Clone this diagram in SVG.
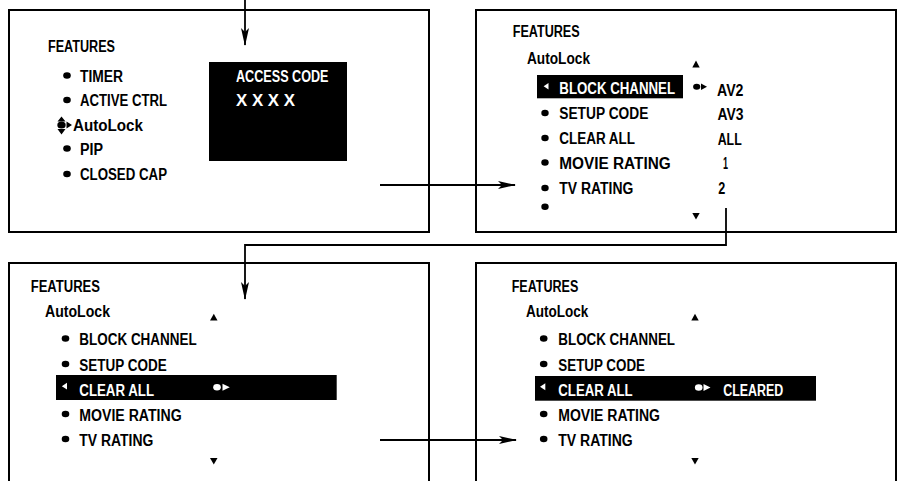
<svg xmlns="http://www.w3.org/2000/svg" width="901" height="481" viewBox="0 0 901 481">
<style>
  .box{fill:none;stroke:#000;stroke-width:2}
  .t{font-family:"Liberation Sans",Arial,sans-serif;font-size:16px;font-weight:bold;fill:#000}
  .w{fill:#fff}
  .hl{fill:#000}
  .b{fill:#000}
  .bw{fill:#fff}
  .conn{fill:none;stroke:#000;stroke-width:1.8}
</style>
<defs>
  <marker id="ah" viewBox="0 0 18 9" refX="17" refY="4.5" markerWidth="18" markerHeight="9" markerUnits="userSpaceOnUse" orient="auto">
    <path d="M0,0.5 L18,4.5 L0,8.5 L4,4.5 Z" fill="#000"/>
  </marker>
</defs>
<rect width="901" height="481" fill="#fff"/>

<g id="screen1">
  <rect class="box" x="9" y="10" width="420" height="222"/>
  <text class="t" x="48" y="51.5" textLength="67" lengthAdjust="spacingAndGlyphs">FEATURES</text>
  <ellipse class="b" cx="67" cy="75.5" rx="3.8" ry="3.2"/>
  <text class="t" x="80" y="81.5" textLength="43" lengthAdjust="spacingAndGlyphs">TIMER</text>
  <ellipse class="b" cx="67" cy="100" rx="3.8" ry="3.2"/>
  <text class="t" x="80" y="106" textLength="87" lengthAdjust="spacingAndGlyphs">ACTIVE CTRL</text>
  <path class="b" d="M57.5,121.5 L65.5,121.5 L61.5,116.5 Z M57.5,129 L65.5,129 L61.5,134.5 Z M66.5,121.5 L66.5,128.5 L72,125 Z"/>
  <ellipse class="b" cx="61.5" cy="125" rx="4.2" ry="3.5"/>
  <text class="t" x="73" y="131" textLength="70" lengthAdjust="spacingAndGlyphs">AutoLock</text>
  <ellipse class="b" cx="67" cy="148.5" rx="3.8" ry="3.2"/>
  <text class="t" x="80" y="154.5" textLength="23" lengthAdjust="spacingAndGlyphs">PIP</text>
  <ellipse class="b" cx="67" cy="174" rx="3.8" ry="3.2"/>
  <text class="t" x="80" y="180" textLength="87" lengthAdjust="spacingAndGlyphs">CLOSED CAP</text>
  <rect class="hl" x="209" y="62" width="138" height="99"/>
  <text class="t w" x="236" y="81.5" textLength="92.5" lengthAdjust="spacingAndGlyphs">ACCESS CODE</text>
  <text class="t w" x="236" y="106" textLength="59" lengthAdjust="spacingAndGlyphs">X X X X</text>
</g>

<g id="screen2">
  <rect class="box" x="476" y="10" width="420" height="222"/>
  <text class="t" x="512.7" y="37" textLength="67" lengthAdjust="spacingAndGlyphs">FEATURES</text>
  <text class="t" x="527" y="63.5" textLength="63" lengthAdjust="spacingAndGlyphs">AutoLock</text>
  <path class="b" d="M692.3,67.5 L699.7,67.5 L696,60.5 Z"/>
  <rect class="hl" x="537" y="75" width="146" height="23.3"/>
  <path class="bw" d="M548.5,83 L548.5,89.6 L543.6,86.3 Z"/>
  <text class="t w" x="559.3" y="94" textLength="115.7" lengthAdjust="spacingAndGlyphs">BLOCK CHANNEL</text>
  <ellipse class="b" cx="696.7" cy="86.7" rx="3.6" ry="3"/>
  <path class="b" d="M701,83.5 L701,89.9 L707,86.7 Z"/>
  <text class="t" x="717" y="96" textLength="26.5" lengthAdjust="spacingAndGlyphs">AV2</text>
  <ellipse class="b" cx="545" cy="113" rx="3.7" ry="3.2"/>
  <text class="t" x="559.3" y="119" textLength="89" lengthAdjust="spacingAndGlyphs">SETUP CODE</text>
  <text class="t" x="717.5" y="120" textLength="26" lengthAdjust="spacingAndGlyphs">AV3</text>
  <ellipse class="b" cx="545" cy="138" rx="3.7" ry="3.2"/>
  <text class="t" x="559.3" y="144" textLength="75.7" lengthAdjust="spacingAndGlyphs">CLEAR ALL</text>
  <text class="t" x="717.7" y="145" textLength="24" lengthAdjust="spacingAndGlyphs">ALL</text>
  <ellipse class="b" cx="545" cy="162.5" rx="3.7" ry="3.2"/>
  <text class="t" x="559.3" y="168.5" textLength="111.4" lengthAdjust="spacingAndGlyphs">MOVIE RATING</text>
  <text class="t" x="723" y="169" textLength="5" lengthAdjust="spacingAndGlyphs">1</text>
  <ellipse class="b" cx="545" cy="188" rx="3.7" ry="3.2"/>
  <text class="t" x="559.3" y="194" textLength="74" lengthAdjust="spacingAndGlyphs">TV RATING</text>
  <text class="t" x="718.3" y="193.5" textLength="7" lengthAdjust="spacingAndGlyphs">2</text>
  <ellipse class="b" cx="545" cy="206.7" rx="3.7" ry="3.2"/>
  <path class="b" d="M692.3,213 L699.7,213 L696,219.5 Z"/>
</g>

<g id="screen3">
  <rect class="box" x="9" y="263" width="420" height="240"/>
  <text class="t" x="30.7" y="291.5" textLength="69.3" lengthAdjust="spacingAndGlyphs">FEATURES</text>
  <text class="t" x="45" y="316.5" textLength="65" lengthAdjust="spacingAndGlyphs">AutoLock</text>
  <path class="b" d="M210,320.5 L217.5,320.5 L213.8,313.8 Z"/>
  <ellipse class="b" cx="65.5" cy="338.5" rx="3.8" ry="3.2"/>
  <text class="t" x="79.3" y="345" textLength="117.4" lengthAdjust="spacingAndGlyphs">BLOCK CHANNEL</text>
  <ellipse class="b" cx="65.5" cy="364" rx="3.8" ry="3.2"/>
  <text class="t" x="79.3" y="370.5" textLength="87.4" lengthAdjust="spacingAndGlyphs">SETUP CODE</text>
  <rect class="hl" x="56" y="375" width="280.7" height="25"/>
  <path class="bw" d="M67,382.8 L67,389.6 L61.8,386.2 Z"/>
  <text class="t w" x="79.3" y="396" textLength="74.7" lengthAdjust="spacingAndGlyphs">CLEAR ALL</text>
  <ellipse class="bw" cx="217" cy="387.3" rx="3.8" ry="3.2"/>
  <path class="bw" d="M222.5,383.8 L222.5,390.8 L229.8,387.3 Z"/>
  <ellipse class="b" cx="65.5" cy="414" rx="3.8" ry="3.2"/>
  <text class="t" x="79.3" y="420.5" textLength="102.4" lengthAdjust="spacingAndGlyphs">MOVIE RATING</text>
  <ellipse class="b" cx="65.5" cy="439" rx="3.8" ry="3.2"/>
  <text class="t" x="79.3" y="445.5" textLength="74" lengthAdjust="spacingAndGlyphs">TV RATING</text>
  <path class="b" d="M210,458 L217.5,458 L213.8,464.5 Z"/>
</g>

<g id="screen4">
  <rect class="box" x="476" y="263" width="420" height="240"/>
  <text class="t" x="511.7" y="291.5" textLength="66.6" lengthAdjust="spacingAndGlyphs">FEATURES</text>
  <text class="t" x="526" y="316.5" textLength="62.3" lengthAdjust="spacingAndGlyphs">AutoLock</text>
  <path class="b" d="M691.3,320.5 L698.7,320.5 L695,313.8 Z"/>
  <ellipse class="b" cx="543.7" cy="338.5" rx="3.8" ry="3.2"/>
  <text class="t" x="558.3" y="345" textLength="116.7" lengthAdjust="spacingAndGlyphs">BLOCK CHANNEL</text>
  <ellipse class="b" cx="543.7" cy="364" rx="3.8" ry="3.2"/>
  <text class="t" x="558.3" y="370.5" textLength="86.7" lengthAdjust="spacingAndGlyphs">SETUP CODE</text>
  <rect class="hl" x="535" y="376" width="281" height="24.7"/>
  <path class="bw" d="M545.3,383.3 L545.3,390.2 L540,386.8 Z"/>
  <text class="t w" x="558.3" y="396" textLength="74.4" lengthAdjust="spacingAndGlyphs">CLEAR ALL</text>
  <ellipse class="bw" cx="698.7" cy="387.5" rx="3.8" ry="3.2"/>
  <path class="bw" d="M703.5,384 L703.5,391 L710.5,387.5 Z"/>
  <text class="t w" x="723.3" y="396" textLength="60" lengthAdjust="spacingAndGlyphs">CLEARED</text>
  <ellipse class="b" cx="543.7" cy="414" rx="3.8" ry="3.2"/>
  <text class="t" x="558.3" y="420.5" textLength="101.7" lengthAdjust="spacingAndGlyphs">MOVIE RATING</text>
  <ellipse class="b" cx="543.7" cy="439" rx="3.8" ry="3.2"/>
  <text class="t" x="558.3" y="445.5" textLength="74.4" lengthAdjust="spacingAndGlyphs">TV RATING</text>
  <path class="b" d="M691.3,458 L698.7,458 L695,464.5 Z"/>
</g>

<g id="connectors">
  <path class="conn" d="M245,0 L245,45" marker-end="url(#ah)"/>
  <path class="conn" d="M380,185 L515,185" marker-end="url(#ah)"/>
  <path class="conn" d="M726,208 L726,245 L245,245 L245,299" marker-end="url(#ah)"/>
  <path class="conn" d="M380,440 L516,440" marker-end="url(#ah)"/>
</g>
</svg>
